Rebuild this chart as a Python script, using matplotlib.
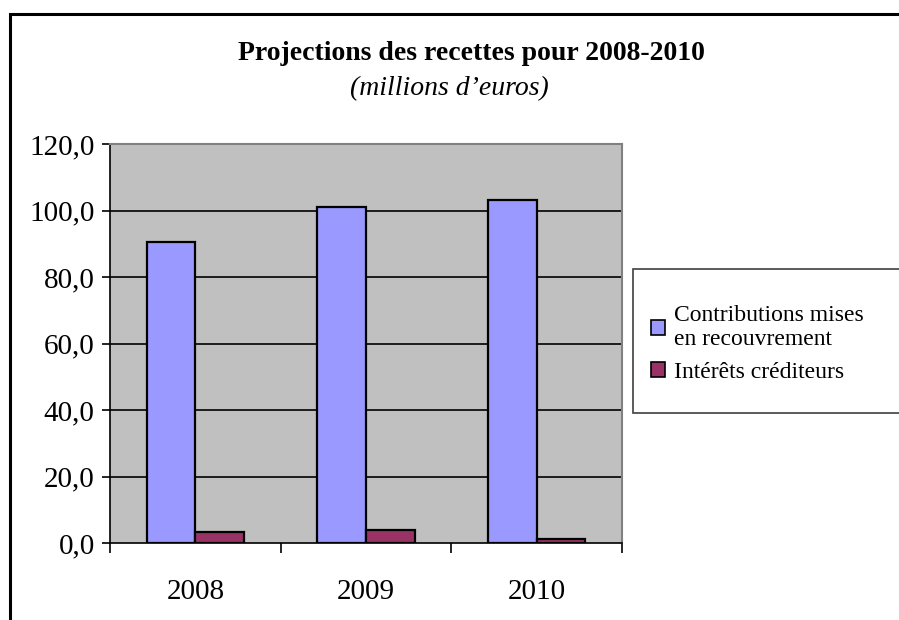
import numpy as np
import matplotlib.pyplot as plt
from matplotlib.patches import Rectangle, Patch

"""
Projections des recettes pour 2008-2010 (bar chart, Excel style)
"""

years = ['2008', '2009', '2010']
contributions = [90.6, 101.1, 103.1]
interets = [3.4, 4.0, 1.2]
yticks = [0, 20, 40, 60, 80, 100, 120]
yticklabels = ['0,0', '20,0', '40,0', '60,0', '80,0', '100,0', '120,0']
labels = ['Contributions mises\nen recouvrement', 'Intérêts créditeurs']

plt.rcParams['font.family'] = 'Liberation Serif'

fig = plt.figure(figsize=(8.99, 6.2), dpi=100)

# outer chart border (clipped at right/bottom as in the original)
fig.patches.append(Rectangle((10/899, -0.1), 1.0, 1 - 14/620 + 0.1, transform=fig.transFigure,
                             fill=False, edgecolor='black', linewidth=2.2))

ax = fig.add_axes([110/899, 1 - 543/620, 512/899, 399/620])
ax.set_facecolor('#C0C0C0')

x = np.arange(len(years))
width = .285
ax.bar(x - width/2, contributions, width, color='#9999FF', edgecolor='black', linewidth=1.6, zorder=3)
ax.bar(x + width/2, interets, width, color='#993366', edgecolor='black', linewidth=1.6, zorder=3)

ax.set_xlim(-.5, 2.5)
ax.set_ylim(0, 120)
ax.set_yticks(yticks)
ax.set_yticklabels(yticklabels, fontsize=21)
for v in yticks[1:-1]:
    ax.axhline(v, color='black', linewidth=1.2, zorder=1)

ax.set_xticks([-.5, .5, 1.5, 2.5])
ax.set_xticklabels([])
ax.set_xticks(x, minor=True)
ax.set_xticklabels(years, minor=True, fontsize=21)
ax.tick_params(axis='x', which='minor', length=0, pad=26)
ax.tick_params(axis='x', which='major', length=7, width=1.2, direction='out')
ax.tick_params(axis='y', length=6, width=1.2, direction='out', pad=5)

for s in ['top', 'right']:
    ax.spines[s].set_color('#808080')
    ax.spines[s].set_linewidth(1.5)
for s in ['left', 'bottom']:
    ax.spines[s].set_color('black')
    ax.spines[s].set_linewidth(1.2)

fig.text(471/899, 1 - 54/620, 'Projections des recettes pour 2008-2010', fontsize=20,
         fontweight='bold', ha='center', va='center')
fig.text(449/899, 1 - 89/620, "(millions d\u2019euros)", fontsize=20, style='italic',
         ha='center', va='center')

# legend box
fig.patches.append(Rectangle((633/899, 1 - 413/620), 0.5, 144/620, transform=fig.transFigure,
                             facecolor='white', edgecolor='#404040', linewidth=1.2))
handles = [Patch(facecolor='#9999FF', edgecolor='black', linewidth=1.2),
           Patch(facecolor='#993366', edgecolor='black', linewidth=1.2)]
fig.legend(handles, labels, loc='center left', bbox_to_anchor=(630/899, 1 - 344/620),
           frameon=False, fontsize=17, handlelength=0.6, handleheight=0.6,
           handletextpad=0.35, labelspacing=0.5)

plt.savefig('out.png', dpi=100)
